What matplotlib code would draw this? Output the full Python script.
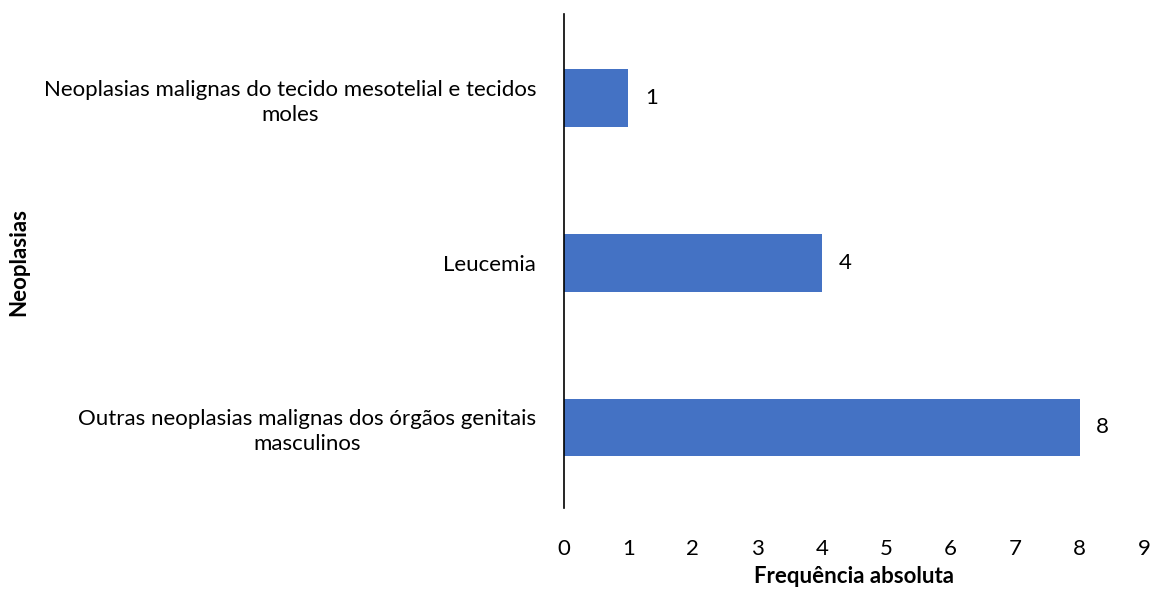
import matplotlib.pyplot as plt

plt.rcParams['font.family'] = ['Lato', 'DejaVu Sans']

# Categorias (de baixo para cima) e frequências
categorias = [
    "Outras neoplasias malignas dos órgãos genitais\nmasculinos",
    "Leucemia",
    "Neoplasias malignas do tecido mesotelial e tecidos\nmoles",
]
frequencias = [8, 4, 1]
ticks_x = list(range(0, 10))

fig = plt.figure(figsize=(11.52, 5.91), dpi=100)
ax = fig.add_axes([0.4896, 0.1404, 0.5034, 0.8356])

barras = ax.barh(range(len(categorias)), frequencias, height=0.35, color='#4472C4')
ax.bar_label(barras, padding=12, fontsize=16)

ax.set_xlim(0, 9)
ax.set_ylim(-0.49, 2.51)
ax.set_xticks(ticks_x)
ax.set_yticks(range(len(categorias)))
ax.set_yticklabels(categorias, multialignment='center', linespacing=1.3)
ax.tick_params(axis='x', length=0, pad=22, labelsize=16)
ax.tick_params(axis='y', length=0, pad=20, labelsize=16)

for lado in ['top', 'right', 'bottom']:
    ax.spines[lado].set_visible(False)
ax.spines['left'].set_color('black')
ax.spines['left'].set_linewidth(1.2)

ax.set_xlabel('Frequência absoluta', fontsize=16, fontweight='bold', labelpad=5)
fig.text(0.016, 0.557, 'Neoplasias', rotation=90, fontsize=16, fontweight='bold',
         ha='center', va='center')

fig.savefig('out.png', dpi=100)
